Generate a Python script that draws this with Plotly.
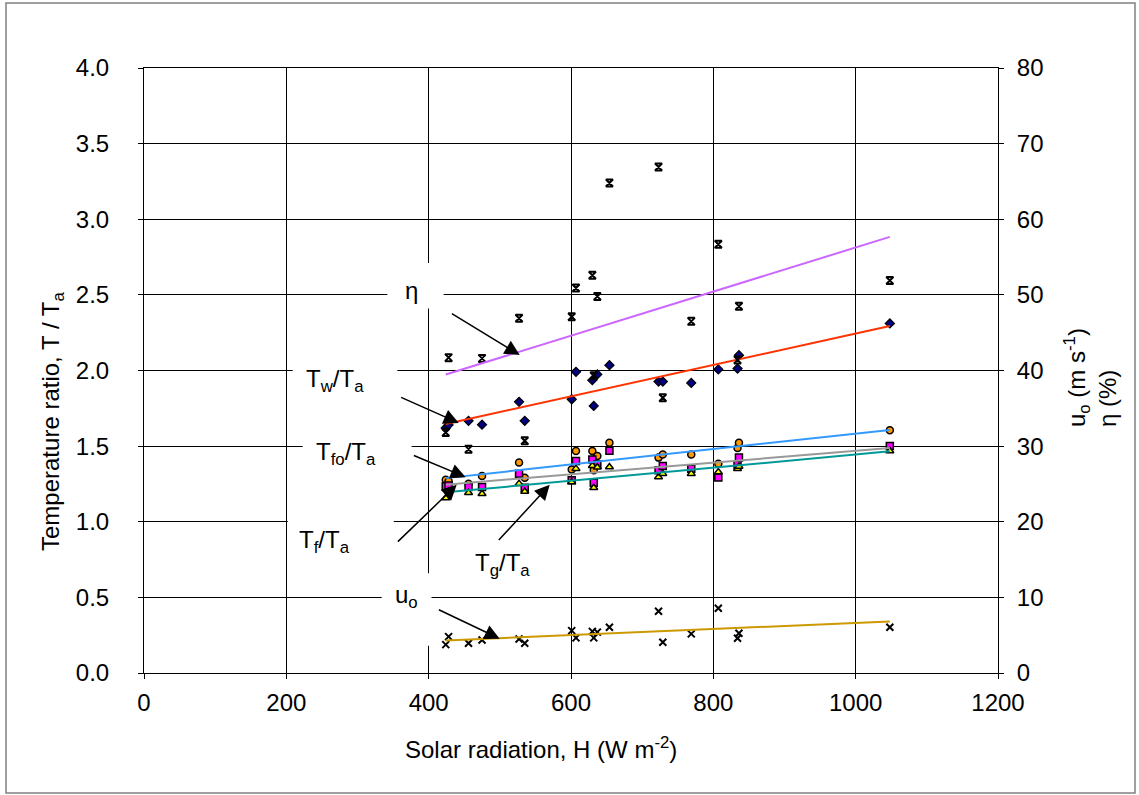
import numpy as np
import plotly.graph_objects as go

# ---------------- data ----------------
solar_H = [424, 428, 456, 475, 527, 535, 601, 607, 630, 632, 637, 654, 723, 729, 769, 807, 834, 836, 1048]

Tw_Ta = [1.62, 1.64, 1.667, 1.642, 1.793, 1.667, 1.81, 1.991, 1.936, 1.766, 1.974, 2.035,
         1.927, 1.927, 1.918, 2.007, 2.013, 2.101, 2.311]
Tfo_Ta = [1.278, 1.267, 1.252, 1.302, 1.391, 1.291, 1.346, 1.468, 1.468, 1.34, 1.435, 1.523,
          1.424, 1.444, 1.444, 1.384, 1.488, 1.523, 1.605]
Tf_Ta = [1.234, 1.24, 1.23, 1.23, 1.318, 1.225, 1.274, 1.402, 1.411, 1.258, 1.38, 1.47,
         1.34, 1.369, 1.351, 1.293, 1.377, 1.424, 1.501]
Tg_Ta = [1.157, 1.2, 1.192, 1.185, 1.252, 1.2, 1.263, 1.351, 1.37, 1.225, 1.36, 1.362,
         1.296, 1.318, 1.318, 1.329, 1.35, 1.366, 1.468]
eta_pct = [31.8, 41.7, 29.6, 41.6, 46.9, 30.7, 47.1, 50.9, 52.6, 39.3, 49.8, 64.8,
           66.9, 36.4, 46.5, 56.7, 41.4, 48.5, 51.9]
u_o = [3.75, 4.81, 3.93, 4.37, 4.5, 3.93, 5.6, 4.64, 5.5, 4.64, 5.4, 6.05,
       8.17, 4.07, 5.17, 8.57, 4.6, 5.26, 6.05]

x_ticks = [0, 200, 400, 600, 800, 1000, 1200]
yl_ticks = [0.0, 0.5, 1.0, 1.5, 2.0, 2.5, 3.0, 3.5, 4.0]
yr_ticks = [0, 10, 20, 30, 40, 50, 60, 70, 80]

FONT = "Arial, 'Liberation Sans', sans-serif"
FS = 24

fig = go.Figure()

def trend(xs, ys):
    c = np.polyfit(xs, ys, 1)
    xx = np.array([min(xs), max(xs)])
    return xx, np.polyval(c, xx)

# ---- markers ----
fig.add_trace(go.Scatter(x=solar_H, y=eta_pct, yaxis="y2", mode="markers", name="η",
                         marker=dict(symbol="hourglass-open", size=7, color="black",
                                     line=dict(width=2, color="black"))))
fig.add_trace(go.Scatter(x=solar_H, y=Tw_Ta, mode="markers", name="Tw/Ta",
                         marker=dict(symbol="diamond", size=7, color="#000080",
                                     line=dict(width=1.2, color="black"))))
fig.add_trace(go.Scatter(x=solar_H, y=Tfo_Ta, mode="markers", name="Tfo/Ta",
                         marker=dict(symbol="circle", size=7, color="#FF9900",
                                     line=dict(width=1.5, color="black"))))
fig.add_trace(go.Scatter(x=solar_H, y=Tf_Ta, mode="markers", name="Tf/Ta",
                         marker=dict(symbol="square", size=7, color="#FF00FF",
                                     line=dict(width=1.5, color="black"))))
fig.add_trace(go.Scatter(x=solar_H, y=Tg_Ta, mode="markers", name="Tg/Ta",
                         marker=dict(symbol="triangle-up", size=7, color="#FFFF00",
                                     line=dict(width=1.5, color="black"))))
fig.add_trace(go.Scatter(x=solar_H, y=u_o, yaxis="y2", mode="markers", name="uo",
                         marker=dict(symbol="x-thin-open", size=7, color="black",
                                     line=dict(width=2, color="black"))))

# ---- linear trend lines ----
for ys, col, ax in [(eta_pct, "#CC66FF", "y2"), (Tw_Ta, "#FF3300", "y"),
                    (Tfo_Ta, "#3399FF", "y"), (Tf_Ta, "#999999", "y"),
                    (Tg_Ta, "#009999", "y"), (u_o, "#CC9900", "y2")]:
    xx, yy = trend(solar_H, ys)
    fig.add_trace(go.Scatter(x=xx, y=yy, yaxis=ax, mode="lines",
                             line=dict(color=col, width=2), hoverinfo="skip"))

# ---- text labels with white boxes ----
boxes = [  # x0, x1, y0, y1 in data units of left axis
    (342, 421, 2.41, 2.71),
    (209, 356, 1.84, 2.10),
    (223, 376, 1.34, 1.60),
    (202, 351, 0.72, 1.05),
    (334, 404, 0.18, 0.66),
]
shapes = []
for x0, x1, y0, y1 in boxes:
    shapes.append(dict(type="rect", xref="x", yref="y", x0=x0, x1=x1, y0=y0, y1=y1,
                       fillcolor="white", line=dict(width=0), layer="above"))

# outer frame (paper coords computed from pixel layout)
L, R, T, B, W, H = 144, 141, 68, 122, 1139, 795
pw, ph = W - L - R, H - T - B
def px(xp): return (xp - L) / pw
def py(yp): return (H - B - yp) / ph
shapes.append(dict(type="rect", xref="paper", yref="paper", x0=px(6), x1=px(1135),
                   y0=py(793), y1=py(3), line=dict(color="#808080", width=1.5),
                   fillcolor="rgba(0,0,0,0)", layer="below"))

labels = [
    ("η", 376, 2.53),
    ("T<sub>w</sub>/T<sub>a</sub>", 268, 1.937),
    ("T<sub>fo</sub>/T<sub>a</sub>", 284, 1.453),
    ("T<sub>f</sub>/T<sub>a</sub>", 254, 0.870),
    ("T<sub>g</sub>/T<sub>a</sub>", 504, 0.720),
    ("u<sub>o</sub>", 369, 0.507),
]
arrows = [  # tail -> tip
    (430.5, 2.382, 527.9, 2.102),
    (359.2, 1.827, 442.2, 1.653),
    (377.1, 1.442, 452.0, 1.295),
    (354.6, 0.859, 439.4, 1.244),
    (496.6, 0.869, 570.1, 1.244),
    (412.2, 0.423, 499.8, 0.227),
]
annotations = []
for t, x, y in labels:
    annotations.append(dict(text=t, x=x, y=y, xref="x", yref="y", showarrow=False,
                            xanchor="center", yanchor="middle",
                            font=dict(family=FONT, size=FS, color="black")))
for x0, y0, x1, y1 in arrows:
    annotations.append(dict(text="", x=x1, y=y1, ax=x0, ay=y0, xref="x", yref="y",
                            axref="x", ayref="y", showarrow=True, arrowhead=2,
                            arrowsize=2, arrowwidth=1.5, arrowcolor="black"))

# axis titles
annotations.append(dict(text="Temperature ratio, T / T<sub>a</sub>", xref="paper", yref="paper",
                        x=px(52), y=py(422), textangle=-90, showarrow=False,
                        xanchor="center", yanchor="middle",
                        font=dict(family=FONT, size=FS, color="black")))
annotations.append(dict(text="u<sub>o</sub> (m s<sup>-1</sup>)<br>η (%)", xref="paper", yref="paper",
                        x=px(1090), y=py(378), textangle=-90, showarrow=False, align="left",
                        xanchor="center", yanchor="middle",
                        font=dict(family=FONT, size=FS, color="black")))
annotations.append(dict(text="Solar radiation, H (W m<sup>-2</sup>)", xref="paper", yref="paper",
                        x=px(541), y=py(748), showarrow=False,
                        xanchor="center", yanchor="middle",
                        font=dict(family=FONT, size=FS, color="black")))

axis_common = dict(showline=True, linecolor="black", linewidth=1, ticks="outside",
                   ticklen=5, tickcolor="black", zeroline=False,
                   tickfont=dict(family=FONT, size=FS, color="black"))

fig.update_layout(
    width=W, height=H, margin=dict(l=L, r=R, t=T, b=B),
    paper_bgcolor="white", plot_bgcolor="white", showlegend=False,
    font=dict(family=FONT, size=FS, color="black"),
    xaxis=dict(range=[0, 1200], tickvals=x_ticks, showgrid=True, gridcolor="black",
               gridwidth=1, mirror=True, ticklabelstandoff=3, **axis_common),
    yaxis=dict(range=[0, 4], tickvals=yl_ticks, tickformat=".1f", showgrid=True,
               gridcolor="black", gridwidth=1, ticklabelstandoff=24, **axis_common),
    yaxis2=dict(range=[0, 80], tickvals=yr_ticks, overlaying="y", side="right",
                showgrid=False, ticklabelstandoff=8, **axis_common),
    shapes=shapes, annotations=annotations,
)

fig.write_html("out.html")
